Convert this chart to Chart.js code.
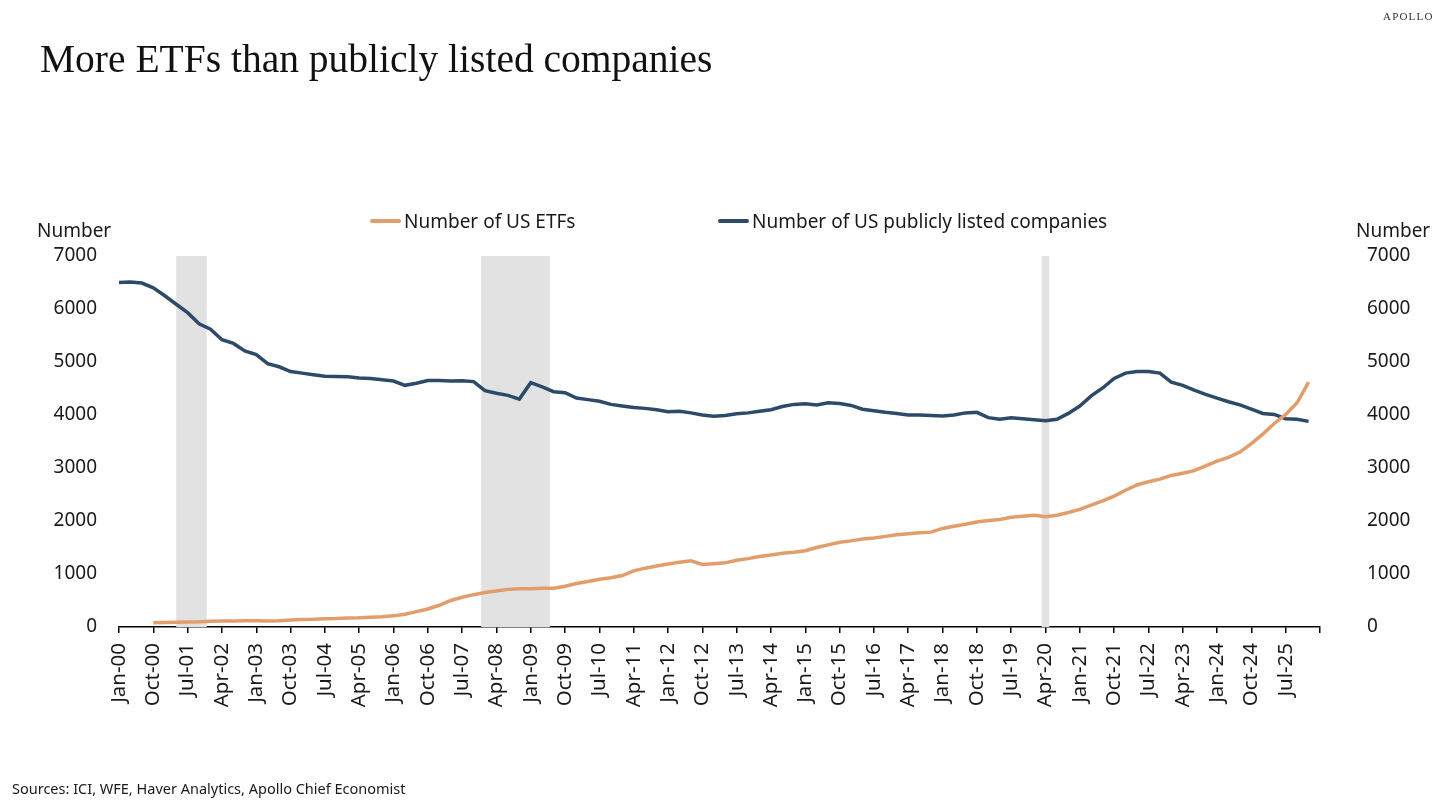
<!DOCTYPE html>
<html>
<head>
<meta charset="utf-8">
<script src="https://cdn.jsdelivr.net/npm/chart.js@4.4.0/dist/chart.umd.min.js"></script>
<style>
  html, body { margin: 0; padding: 0; background: #fff; }
  #wrap { position: relative; width: 1456px; height: 808px; overflow: hidden; }
  #chart { position: absolute; left: 0; top: 0; }
  .txt { position: absolute; font-family: "Noto Sans", sans-serif; color: #1a1a1a; white-space: nowrap; }
  .title { left: 40px; top: 40px; font-family: "Liberation Serif", serif; font-size: 39.5px; line-height: 1; color: #111; }
  .brand { left: 1383px; top: 10px; font-family: "Liberation Serif", serif; font-size: 11px; letter-spacing: 1.2px; color: #333; }
  .unit { font-size: 19px; top: 217px; }
  .leg { top: 208px; font-size: 19px; display: flex; align-items: center; }
  .leg i { display: inline-block; width: 31px; height: 4px; margin-right: 3px; border-radius: 2px; }
  .source { left: 12px; top: 778px; font-size: 14.5px; }
</style>
</head>
<body>
<div id="wrap">
  <canvas id="chart" width="1456" height="808"></canvas>
  <div class="txt title">More ETFs than publicly listed companies</div>
  <div class="txt brand">APOLLO</div>
  <div class="txt unit" style="left:37px">Number</div>
  <div class="txt unit" style="left:1356px">Number</div>
  <div class="txt leg" style="left:370px"><i style="background:#E39D6B"></i>Number of US ETFs</div>
  <div class="txt leg" style="left:718px"><i style="background:#2D4A69"></i>Number of US publicly listed companies</div>
  <div class="txt source">Sources: ICI, WFE, Haver Analytics, Apollo Chief Economist</div>
</div>
<script>
// Data: quarterly readings, month index 0 = Jan-00, step 3 months
const startYear = 2000;
const stepMonths = 3;
const monthNames = ['Jan','Feb','Mar','Apr','May','Jun','Jul','Aug','Sep','Oct','Nov','Dec'];

// Number of US ETFs (starts Oct-00)
const etfs = [
  null, null, null, 80, 85, 90, 95, 100, 110, 115,
  115, 120, 120, 115, 120, 130, 140, 145, 155, 160,
  170, 175, 185, 195, 210, 240, 290, 340, 410, 500,
  560, 610, 650, 680, 710, 720, 720, 730, 730, 770,
  820, 860, 900, 930, 970, 1060, 1110, 1150, 1190, 1220,
  1250, 1180, 1195, 1210, 1260, 1290, 1330, 1360, 1390, 1410,
  1440, 1500, 1550, 1600, 1625, 1660, 1680, 1710, 1740, 1760,
  1780, 1790, 1860, 1900, 1940, 1980, 2010, 2030, 2070, 2090,
  2110, 2080, 2110, 2160, 2220, 2300, 2380, 2470, 2580, 2680,
  2740, 2790, 2860, 2900, 2950, 3040, 3130, 3200, 3300, 3460,
  3640, 3840, 4010, 4230, 4620
];

// Number of US publicly listed companies
const companies = [
  6500, 6510, 6490, 6400, 6250, 6090, 5930, 5720, 5620, 5420,
  5350, 5210, 5140, 4970, 4910, 4820, 4790, 4760, 4730, 4725,
  4720, 4700, 4690, 4665, 4640, 4560, 4600, 4650, 4650, 4640,
  4645, 4630, 4460, 4410, 4370, 4300, 4610, 4530, 4440, 4420,
  4320, 4290, 4260, 4200, 4170, 4140, 4125, 4100, 4060, 4070,
  4040, 4000, 3975, 3990, 4025, 4040, 4070, 4100, 4160, 4200,
  4210, 4190, 4230, 4215, 4180, 4110, 4080, 4050, 4030, 4000,
  4000, 3990, 3980, 4000, 4040, 4050, 3950, 3920, 3950, 3930,
  3910, 3890, 3920, 4030, 4170, 4360, 4510, 4690, 4790, 4820,
  4820, 4790, 4620, 4560, 4470, 4390, 4320, 4250, 4190, 4110,
  4030, 4010, 3930, 3920, 3880
];

// Recessions as [start month, end month] (month index from Jan-00)
const recessions = [[15, 23], [95, 113], [242, 244]];

// x axis: ticks every 9 months, axis ends at month 315
const tickStep = 9;
const axisMax = 315;
const lastLabel = 306;
const yTicks = [0, 1000, 2000, 3000, 4000, 5000, 6000, 7000];

function monthLabel(m) {
  const y = startYear + Math.floor(m / 12);
  return monthNames[m % 12] + '-' + String(y % 100).padStart(2, '0');
}

function toPoints(arr) {
  return arr.map((v, i) => ({ x: i * stepMonths, y: v }));
}

// Grey recession bands behind the lines
const recessionBands = {
  id: 'recessionBands',
  beforeDatasetsDraw(chart) {
    const { ctx, chartArea, scales } = chart;
    ctx.save();
    ctx.fillStyle = '#E2E2E2';
    recessions.forEach(([a, b]) => {
      const x1 = scales.x.getPixelForValue(a);
      const x2 = scales.x.getPixelForValue(b);
      ctx.fillRect(x1, chartArea.top, x2 - x1, chartArea.bottom - chartArea.top);
    });
    ctx.restore();
  }
};

const xFont = { family: 'Noto Sans', size: 20.5 };
const yFont = { family: 'Noto Sans', size: 19 };

const ctx = document.getElementById('chart').getContext('2d');
new Chart(ctx, {
  type: 'line',
  data: {
    datasets: [
      {
        label: 'Number of US ETFs',
        data: toPoints(etfs),
        borderColor: '#E39D6B',
        borderWidth: 3.5,
        pointRadius: 0,
        yAxisID: 'y'
      },
      {
        label: 'Number of US publicly listed companies',
        data: toPoints(companies),
        borderColor: '#2D4A69',
        borderWidth: 3.5,
        pointRadius: 0,
        yAxisID: 'y'
      }
    ]
  },
  options: {
    responsive: false,
    animation: false,
    layout: { padding: { top: 256, left: 0, right: 0, bottom: 0 } },
    plugins: { legend: { display: false }, tooltip: { enabled: false } },
    scales: {
      x: {
        type: 'linear',
        min: 0,
        max: axisMax,
        afterFit(s) { s.height = 181; },
        afterBuildTicks(s) {
          const t = [];
          for (let m = 0; m <= axisMax; m += tickStep) t.push({ value: m });
          s.ticks = t;
        },
        ticks: {
          autoSkip: false,
          minRotation: 90,
          maxRotation: 90,
          padding: 10,
          color: '#1a1a1a',
          font: xFont,
          callback: v => (v > lastLabel ? '' : monthLabel(v))
        },
        grid: { display: true, drawOnChartArea: false, drawTicks: true, tickLength: 6, color: '#000', lineWidth: 1.5 },
        border: { display: true, color: '#000', width: 1.5 }
      },
      y: {
        position: 'left',
        min: 0,
        max: 7000,
        afterFit(s) { s.width = 119; },
        afterBuildTicks(s) { s.ticks = yTicks.map(v => ({ value: v })); },
        ticks: { padding: 22, color: '#1a1a1a', font: yFont, callback: v => String(v) },
        grid: { display: false, drawTicks: false },
        border: { display: false }
      },
      y2: {
        position: 'right',
        min: 0,
        max: 7000,
        afterFit(s) { s.width = 136; },
        afterBuildTicks(s) { s.ticks = yTicks.map(v => ({ value: v })); },
        ticks: { padding: 47, color: '#1a1a1a', font: yFont, callback: v => String(v) },
        grid: { display: false, drawTicks: false },
        border: { display: false }
      }
    }
  },
  plugins: [recessionBands]
});
</script>
</body>
</html>
